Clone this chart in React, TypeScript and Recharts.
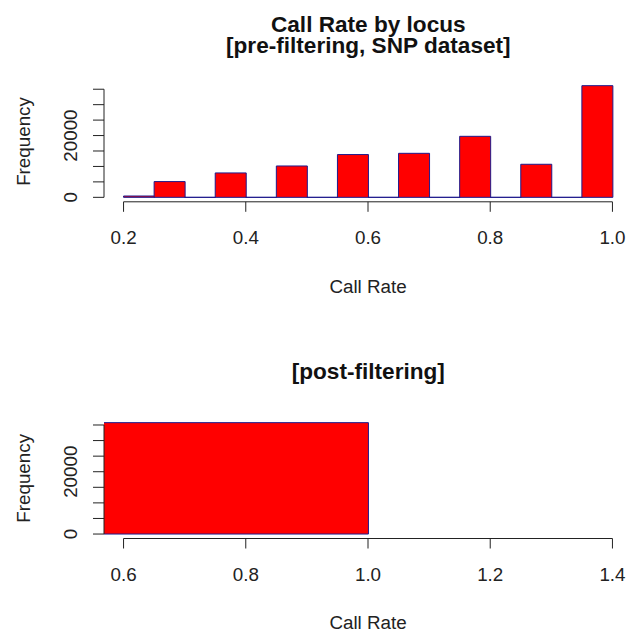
import { Bar, BarChart, Label, XAxis, YAxis } from 'recharts'

const FONT = '"Liberation Sans", Arial, sans-serif'
const FILL = '#ff0000'
const BORDER = '#1f1a8c'
const INK = '#222'

// pre-filtering call rates, 16 bins of width 0.05 from 0.2 to 1.0
const preBinStarts = [0.2, 0.25, 0.3, 0.35, 0.4, 0.45, 0.5, 0.55, 0.6, 0.65, 0.7, 0.75, 0.8, 0.85, 0.9, 0.95]
const preCounts = [430, 5100, 0, 7900, 0, 10150, 0, 13850, 0, 14250, 0, 19750, 0, 10700, 0, 36150]
const preBinWidth = 0.05
const preXTicks = [0.2, 0.4, 0.6, 0.8, 1.0]

// post-filtering call rates, bins of width 0.5
const postBinStarts = [0, 0.5]
const postCounts = [0, 35750]
const postBinWidth = 0.5
const postXTicks = [0.6, 0.8, 1.0, 1.2, 1.4]

const freqTicks = [0, 5000, 10000, 15000, 20000, 25000, 30000, 35000]
const freqLabelled = [0, 20000]

const CHART_W = 640
const CHART_H = 317
const AXIS_W = 104
const PLOT_W = 528
const XAXIS_H = 95

// R-style axis limits: data range widened by 4% each side
const padded = (lo: number, hi: number): [number, number] => {
  const p = (hi - lo) * 0.04
  return [lo - p, hi + p]
}

// dash pattern that only shows the part of an axis line between two fractions of its length
const dashBetween = (len: number, a: number, b: number) => `0 ${len * a} ${len * (b - a)} ${len}`

function BinShape(props: any) {
  const { x, y, width, height } = props
  return <path d={`M${x},${y}h${width}v${height}h${-width}Z`} fill={FILL} stroke={BORDER} strokeWidth={1} />
}

function FreqTick(props: any) {
  const { x, y, payload } = props
  if (!freqLabelled.includes(payload.value)) return <g />
  return (
    <text x={x} y={y} transform={`rotate(-90, ${x}, ${y})`} textAnchor="middle" fontSize={18.8} fill={INK} fontFamily={FONT}>
      {payload.value}
    </text>
  )
}

type PanelProps = {
  starts: number[]
  counts: number[]
  binWidth: number
  xTicks: number[]
  top: number
  plotTop: number
  labelOffset: number
}

function Panel({ starts, counts, binWidth, xTicks, top, plotTop, labelOffset }: PanelProps) {
  const data = starts.map((s, i) => ({ mid: s + binWidth / 2, count: counts[i] }))
  const xDomain = padded(xTicks[0], xTicks[xTicks.length - 1])
  const yDomain = padded(0, Math.max(...counts))
  const plotH = CHART_H - plotTop - XAXIS_H - (top === 0 ? 20.2 : 0.5)
  const xSpan = xDomain[1] - xDomain[0]
  const ySpan = yDomain[1] - yDomain[0]
  const xDash = dashBetween(PLOT_W, (xTicks[0] - xDomain[0]) / xSpan, (xTicks[xTicks.length - 1] - xDomain[0]) / xSpan)
  const yDash = dashBetween(plotH, (yDomain[1] - freqTicks[freqTicks.length - 1]) / ySpan, (yDomain[1] - freqTicks[0]) / ySpan)

  return (
    <div style={{ position: 'absolute', left: 0, top, width: CHART_W, height: CHART_H }}>
      <BarChart
        width={CHART_W}
        height={CHART_H}
        data={data}
        barCategoryGap={0}
        barGap={0}
        margin={{ top: plotTop, right: CHART_W - AXIS_W - PLOT_W, bottom: top === 0 ? 20.2 : 0.5, left: 0 }}
      >
        <XAxis
          type="number"
          dataKey="mid"
          domain={xDomain}
          allowDataOverflow
          ticks={xTicks}
          interval={0}
          height={XAXIS_H}
          tickSize={10}
          tickMargin={19}
          tickFormatter={(v: number) => v.toFixed(1)}
          tick={{ fill: INK, fontSize: 18.8, fontFamily: FONT }}
          stroke={INK}
          axisLine={{ stroke: INK, strokeDasharray: xDash }}
          tickLine={{ stroke: INK }}
        >
          <Label value="Call Rate" position="insideBottom" offset={labelOffset} fill={INK} fontSize={18.8} fontFamily={FONT} />
        </XAxis>
        <YAxis
          type="number"
          domain={yDomain}
          allowDataOverflow
          ticks={freqTicks}
          interval={0}
          width={AXIS_W}
          tickSize={11}
          tickMargin={16.2}
          tick={<FreqTick />}
          stroke={INK}
          axisLine={{ stroke: INK, strokeDasharray: yDash }}
          tickLine={{ stroke: INK }}
        >
          <Label
            value="Frequency"
            position="insideLeft"
            offset={23.8}
            angle={-90}
            fill={INK}
            fontSize={18.8}
            fontFamily={FONT}
            style={{ textAnchor: 'middle' }}
          />
        </YAxis>
        <Bar dataKey="count" shape={<BinShape />} isAnimationActive={false} />
      </BarChart>
    </div>
  )
}

export default function App() {
  const titleStyle = { fontFamily: FONT, fontSize: 22.6, fontWeight: 700, fill: '#111' }
  return (
    <div style={{ position: 'absolute', left: 0, top: 0, width: 630, height: 634, overflow: 'hidden', background: '#fff' }}>
      <Panel starts={preBinStarts} counts={preCounts} binWidth={preBinWidth} xTicks={preXTicks} top={0} plotTop={81.2} labelOffset={4} />
      <Panel starts={postBinStarts} counts={postCounts} binWidth={postBinWidth} xTicks={postXTicks} top={317} plotTop={101.2} labelOffset={5} />
      <svg width={630} height={634} style={{ position: 'absolute', left: 0, top: 0, pointerEvents: 'none' }}>
        <text x={368.3} y={31.7} textAnchor="middle" style={titleStyle}>Call Rate by locus</text>
        <text x={368.3} y={53.3} textAnchor="middle" style={titleStyle}>[pre-filtering, SNP dataset]</text>
        <text x={368.3} y={379.3} textAnchor="middle" style={titleStyle}>[post-filtering]</text>
      </svg>
    </div>
  )
}
